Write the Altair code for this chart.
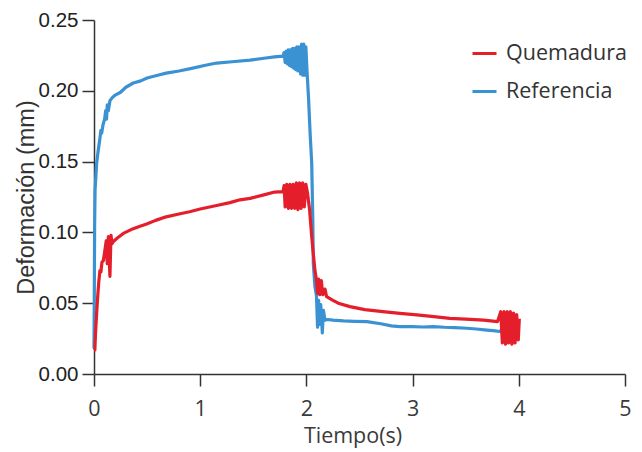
import altair as alt
import pandas as pd

# ---- data ----
series_names = ["Quemadura", "Referencia"]
series_colors = ["#e41f2b", "#3b92d2"]
x_ticks = [0, 1, 2, 3, 4, 5]
y_ticks = [0.0, 0.05, 0.10, 0.15, 0.20, 0.25]

t_ref = [0.000, 0.003, 0.006, 0.010, 0.018, 0.025, 0.040, 0.055, 0.065, 0.072, 0.085,
         0.100, 0.110, 0.118, 0.125, 0.135, 0.150, 0.170, 0.200, 0.250, 0.300, 0.370,
         0.440, 0.500, 0.600, 0.680, 0.800, 0.930, 1.050, 1.155, 1.300, 1.470, 1.600,
         1.700, 1.780,
         1.790, 1.800, 1.810, 1.820, 1.830, 1.840, 1.850, 1.860, 1.870, 1.880, 1.890,
         1.900, 1.910, 1.920, 1.930, 1.945, 1.955, 1.965, 1.975, 1.985, 1.995,
         2.005, 2.020, 2.035, 2.050, 2.060, 2.065, 2.080, 2.095, 2.105, 2.115, 2.125,
         2.135, 2.150, 2.160, 2.175, 2.200, 2.250, 2.350, 2.450, 2.570, 2.700, 2.800,
         2.880, 3.000, 3.100, 3.195, 3.300, 3.400, 3.510, 3.600, 3.700, 3.760, 3.820,
         3.860, 3.900, 3.940, 3.970, 4.000]
y_ref = [0.018, 0.060, 0.105, 0.130, 0.140, 0.149, 0.158, 0.166, 0.172, 0.170, 0.176,
         0.180, 0.186, 0.180, 0.190, 0.186, 0.193, 0.195, 0.197, 0.199, 0.2025, 0.2055,
         0.207, 0.209, 0.211, 0.2125, 0.214, 0.216, 0.218, 0.2196, 0.2205, 0.2217, 0.223,
         0.224, 0.2245,
         0.227, 0.220, 0.228, 0.219, 0.229, 0.218, 0.229, 0.217, 0.230, 0.216, 0.230,
         0.215, 0.231, 0.214, 0.231, 0.212, 0.233, 0.211, 0.233, 0.211, 0.231,
         0.215, 0.195, 0.170, 0.149, 0.110, 0.078, 0.062, 0.055, 0.033, 0.052, 0.035,
         0.049, 0.029, 0.045, 0.038, 0.0385, 0.038, 0.0375, 0.0372, 0.037, 0.0355, 0.034,
         0.0334, 0.0335, 0.0332, 0.0334, 0.033, 0.0328, 0.0323, 0.0318, 0.031, 0.0306, 0.030,
         0.033, 0.027, 0.034, 0.028, 0.032]

t_que = [0.000, 0.008, 0.015, 0.025, 0.035, 0.045, 0.056, 0.065, 0.075, 0.088, 0.100,
         0.115, 0.125, 0.135, 0.150, 0.160, 0.170, 0.180, 0.220, 0.276, 0.350, 0.420,
         0.496, 0.580, 0.680, 0.800, 0.900, 1.000, 1.155, 1.280, 1.375, 1.470, 1.600,
         1.700, 1.780,
         1.790, 1.800, 1.815, 1.830, 1.845, 1.860, 1.875, 1.890, 1.905, 1.920, 1.935,
         1.950, 1.965, 1.980, 1.995, 2.010,
         2.030, 2.050, 2.065, 2.080, 2.095, 2.105, 2.115, 2.125, 2.140, 2.155, 2.175,
         2.190, 2.250, 2.300, 2.410, 2.550, 2.720, 2.880, 3.040, 3.200, 3.350, 3.500,
         3.670, 3.800,
         3.830, 3.845, 3.860, 3.875, 3.890, 3.905, 3.920, 3.935, 3.950, 3.965, 3.980,
         3.995, 4.005]
y_que = [0.017, 0.017, 0.030, 0.043, 0.055, 0.065, 0.073, 0.072, 0.079, 0.080, 0.086,
         0.094, 0.078, 0.097, 0.069, 0.098, 0.092, 0.0934, 0.096, 0.0993, 0.102, 0.104,
         0.106, 0.1085, 0.111, 0.113, 0.1146, 0.1165, 0.119, 0.121, 0.123, 0.124, 0.1265,
         0.1285, 0.1288,
         0.133, 0.118, 0.134, 0.117, 0.134, 0.117, 0.134, 0.117, 0.135, 0.116, 0.135,
         0.117, 0.135, 0.118, 0.134, 0.128,
         0.116, 0.097, 0.085, 0.0734, 0.066, 0.057, 0.067, 0.056, 0.066, 0.056, 0.060,
         0.0546, 0.052, 0.050, 0.0476, 0.0455, 0.044, 0.0428, 0.0417, 0.0405, 0.0393, 0.0387,
         0.038, 0.037,
         0.044, 0.022, 0.044, 0.021, 0.044, 0.022, 0.044, 0.021, 0.043, 0.022, 0.042,
         0.024, 0.039]

df_ref = pd.DataFrame({"t": t_ref, "d": y_ref, "serie": "Referencia"})
df_que = pd.DataFrame({"t": t_que, "d": y_que, "serie": "Quemadura"})

x_enc = alt.X(
    "t:Q",
    scale=alt.Scale(domain=[0, 5], nice=False, zero=False),
    axis=alt.Axis(
        values=x_ticks, format="d", title="Tiempo(s)",
        labelFont="Open Sans", labelFontSize=21.5, labelColor="#3a3a3a",
        labelPadding=12, tickSize=12, labelFlush=False,
        titleFont="Open Sans", titleFontSize=21.5, titleFontWeight="normal",
        titleColor="#3a3a3a", titleX=258.5, titleY=68.5, titleAlign="center",
        titleBaseline="alphabetic",
    ),
)
y_enc = alt.Y(
    "d:Q",
    scale=alt.Scale(domain=[0, 0.25], nice=False),
    axis=alt.Axis(
        values=y_ticks, format=".2f", title="Deformación (mm)",
        labelFont="Liberation Sans", labelFontSize=20.5, labelColor="#222222",
        labelPadding=4, tickSize=12, labelFlush=False,
        titleFont="Liberation Sans", titleFontSize=23.5, titleFontWeight="normal",
        titleColor="#333333", titleX=-61, titleY=177, titleAngle=270,
        titleAlign="center", titleBaseline="alphabetic",
    ),
)
color_enc = alt.Color(
    "serie:N",
    scale=alt.Scale(domain=series_names, range=series_colors),
    legend=alt.Legend(
        title=None, orient="none", legendX=377, legendY=20, padding=0,
        symbolType="stroke", symbolSize=576, symbolStrokeWidth=3,
        labelFont="Open Sans", labelFontSize=21.5, labelColor="#333333",
        labelOffset=8, rowPadding=14,
    ),
)

base_mark = dict(strokeWidth=3.2, strokeJoin="round")
ref_line = alt.Chart(df_ref).mark_line(**base_mark).encode(x=x_enc, y=y_enc, color=color_enc)
que_line = alt.Chart(df_que).mark_line(**base_mark).encode(x=x_enc, y=y_enc, color=color_enc)

chart = (
    alt.layer(ref_line, que_line)
    .properties(
        width=531, height=354,
        autosize=alt.AutoSizeParams(type="none"),
        padding={"left": 86, "top": 12, "right": 8, "bottom": 76},
    )
    .configure_view(stroke=None)
    .configure_axis(
        grid=False, domainColor="#333333", domainWidth=1.5,
        tickColor="#333333", tickWidth=1.5,
    )
)

chart.save("out.html", embed_options={"renderer": "svg", "actions": False})
